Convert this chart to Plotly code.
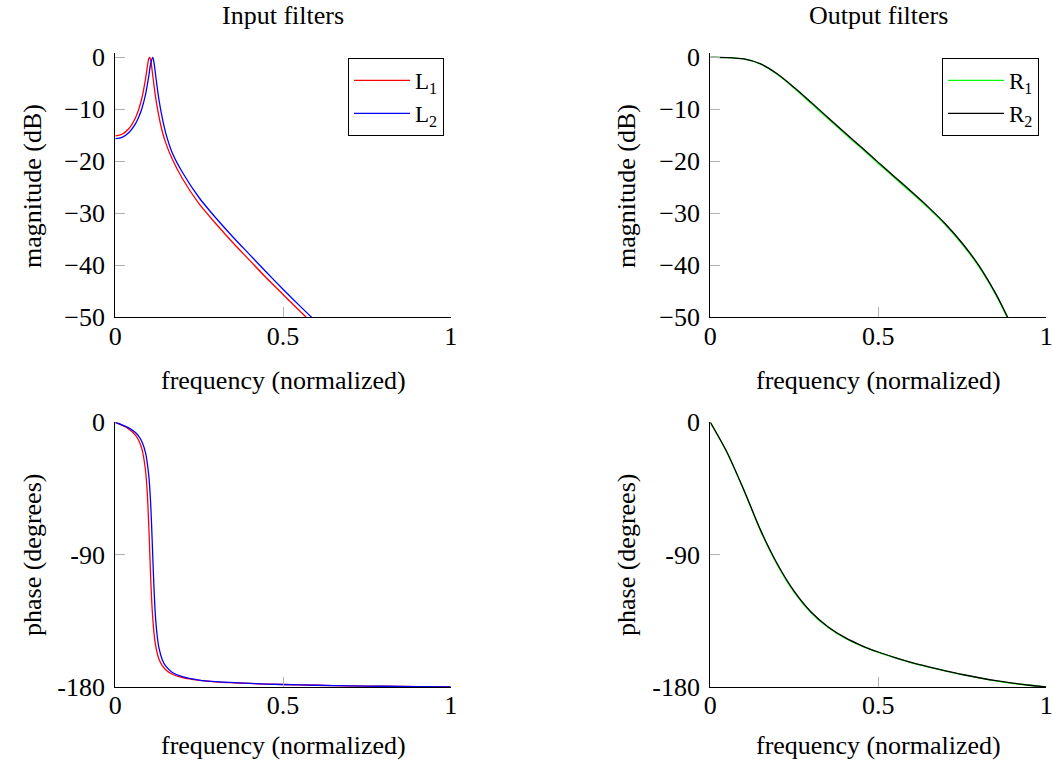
import plotly.graph_objects as go

# ---------------- data ----------------
# Input filters: magnitude (dB)
l1_mag_f = [0, 0.02, 0.04, 0.06, 0.07, 0.08, 0.09, 0.095, 0.1, 0.103, 0.106, 0.11, 0.115, 0.12,
            0.13, 0.14, 0.15, 0.17, 0.2, 0.25, 0.3, 0.35, 0.4, 0.45, 0.5, 0.55, 0.6]
l1_mag = [-15.1, -14.78, -13.73, -11.65, -9.99, -7.62, -4.18, -2.03, -0.21, 0.0, -0.72, -2.57, -5.2, -7.58,
          -11.35, -14.26, -16.4, -19.6, -23.3, -28.2, -32.0, -35.6, -39.0, -42.4, -45.6, -48.8, -51.9]
l2_mag_f = [0, 0.02, 0.04, 0.06, 0.07, 0.08, 0.09, 0.1, 0.105, 0.1115, 0.115, 0.12, 0.125, 0.13,
            0.14, 0.15, 0.17, 0.2, 0.25, 0.3, 0.35, 0.4, 0.45, 0.5, 0.55, 0.6]
l2_mag = [-15.65, -15.38, -14.5, -12.8, -11.49, -9.69, -7.18, -3.51, -1.37, 0.0, -0.85, -3.3, -5.83, -8.07,
          -11.66, -14.46, -18.4, -22.1, -27.0, -30.9, -34.5, -37.9, -41.3, -44.6, -47.8, -50.9]

# Input filters: phase (degrees)
l1_ph_f = [0, 0.02, 0.04, 0.06, 0.07, 0.08, 0.09, 0.095, 0.1, 0.103, 0.106, 0.11, 0.115, 0.12, 0.13,
           0.14, 0.15, 0.17, 0.2, 0.25, 0.3, 0.4, 0.5, 0.6, 0.7, 0.8, 0.9, 1.0]
l1_ph = [0, -2.0, -4.5, -8.7, -12.4, -18.8, -32.6, -46.8, -71.2, -90.0, -108.6, -127.3, -142.5, -151.5, -161.0,
         -165.5, -168.2, -171.3, -173.6, -175.5, -176.5, -177.6, -178.3, -178.8, -179.2, -179.5, -179.7, -180]
l2_ph_f = [0, 0.02, 0.04, 0.06, 0.07, 0.08, 0.09, 0.1, 0.105, 0.108, 0.1115, 0.115, 0.12, 0.125, 0.13,
           0.14, 0.15, 0.17, 0.2, 0.25, 0.3, 0.4, 0.5, 0.6, 0.7, 0.8, 0.9, 1.0]
l2_ph = [0, -1.7, -3.8, -7.0, -9.6, -13.5, -20.6, -36.6, -53.4, -68.6, -90.0, -110.9, -133.0, -145.5, -153.2,
         -161.4, -165.7, -170.1, -173.0, -175.3, -176.4, -177.6, -178.3, -178.8, -179.2, -179.5, -179.7, -180]

# Output filters: magnitude (dB)
r_mag_f = [0, 0.05, 0.1, 0.15, 0.2, 0.25, 0.3, 0.35, 0.4, 0.45, 0.5, 0.55, 0.6, 0.65, 0.7, 0.75,
           0.8, 0.85, 0.885, 0.9]
r1_mag = [0, -0.03, -0.3, -1.3, -3.3, -5.95, -8.85, -11.75, -14.65, -17.5, -20.4, -23.25, -26.1, -29.05,
          -32.25, -35.95, -40.3, -45.7, -50.2, -52.2]
r2_mag = [0, -0.03, -0.3, -1.25, -3.2, -5.8, -8.65, -11.55, -14.45, -17.3, -20.2, -23.05, -25.9, -28.85,
          -32.05, -35.75, -40.1, -45.5, -50.0, -52.0]

# Output filters: phase (degrees)
r_ph_f = [0, 0.05, 0.1, 0.15, 0.2, 0.25, 0.3, 0.35, 0.4, 0.45, 0.5, 0.55, 0.6, 0.65, 0.7, 0.75,
          0.8, 0.85, 0.9, 0.95, 1.0]
r1_ph = [0, -20.7, -46.4, -74.0, -97.1, -115.6, -129.5, -139.4, -146.7, -152.1, -156.5, -160.2, -163.6,
         -166.5, -169.1, -171.6, -173.8, -175.8, -177.5, -178.8, -180]
r2_ph = [0, -20.5, -46.0, -73.5, -96.5, -115.0, -129.0, -139.0, -146.3, -151.8, -156.2, -160.0, -163.4,
         -166.3, -169.0, -171.5, -173.7, -175.7, -177.4, -178.8, -180]

x_ticks = [0, 0.5, 1]
x_ticktext = ["0", "0.5", "1"]
mag_ticks = [0, -10, -20, -30, -40, -50]
mag_ticktext = ["0", "\u221210", "\u221220", "\u221230", "\u221240", "\u221250"]
ph_ticks = [0, -90, -180]
ph_ticktext = ["0", "-90", "-180"]

# ---------------- figure ----------------
W, H = 1053, 767
FONT = "Liberation Serif"
FS = 26


def fx(px):
    return px / W


def fy(py):
    return 1 - py / H


fig = go.Figure()
lw = 1.3
spline = dict(shape="spline", smoothing=0.8)

fig.add_trace(go.Scatter(x=l1_mag_f, y=l1_mag, mode="lines", name="L<sub>1</sub>",
                         line=dict(color="#ff0000", width=lw, **spline), xaxis="x", yaxis="y", legend="legend"))
fig.add_trace(go.Scatter(x=l2_mag_f, y=l2_mag, mode="lines", name="L<sub>2</sub>",
                         line=dict(color="#0000ff", width=lw, **spline), xaxis="x", yaxis="y", legend="legend"))
fig.add_trace(go.Scatter(x=r_mag_f, y=r1_mag, mode="lines", name="R<sub>1</sub>",
                         line=dict(color="#00ff00", width=lw, **spline), xaxis="x2", yaxis="y2", legend="legend2"))
fig.add_trace(go.Scatter(x=r_mag_f, y=r2_mag, mode="lines", name="R<sub>2</sub>",
                         line=dict(color="#000000", width=lw, **spline), xaxis="x2", yaxis="y2", legend="legend2"))
fig.add_trace(go.Scatter(x=l1_ph_f, y=l1_ph, mode="lines", showlegend=False,
                         line=dict(color="#ff0000", width=lw, **spline), xaxis="x3", yaxis="y3"))
fig.add_trace(go.Scatter(x=l2_ph_f, y=l2_ph, mode="lines", showlegend=False,
                         line=dict(color="#0000ff", width=lw, **spline), xaxis="x3", yaxis="y3"))
fig.add_trace(go.Scatter(x=r_ph_f, y=r1_ph, mode="lines", showlegend=False,
                         line=dict(color="#00ff00", width=lw, **spline), xaxis="x4", yaxis="y4"))
fig.add_trace(go.Scatter(x=r_ph_f, y=r2_ph, mode="lines", showlegend=False,
                         line=dict(color="#000000", width=lw, **spline), xaxis="x4", yaxis="y4"))

common_axis = dict(showline=True, linecolor="black", linewidth=1.2, ticks="inside", ticklen=10,
                   tickcolor="#b0b0b0", tickwidth=1.3, showgrid=False, zeroline=False, automargin=False,
                   tickfont=dict(family=FONT, size=FS, color="black"), fixedrange=True)

left_dom = [fx(115.3), fx(450.7)]
right_dom = [fx(710.3), fx(1046.3)]
top_dom = [fy(317.3), fy(52.7)]
bot_dom = [fy(687.0), fy(422.3)]

xcfg = dict(range=[0, 1], tickmode="array", tickvals=x_ticks, ticktext=x_ticktext, ticklabelstandoff=-5, **common_axis)
magcfg = dict(range=[-50, 0.9], tickmode="array", tickvals=mag_ticks, ticktext=mag_ticktext, ticklabelstandoff=4, **common_axis)
phcfg = dict(range=[-180, 0], tickmode="array", tickvals=ph_ticks, ticktext=ph_ticktext, ticklabelstandoff=4, **common_axis)

legend_common = dict(xanchor="right", yanchor="top", bordercolor="black", borderwidth=1,
                     bgcolor="white", font=dict(family=FONT, size=23, color="black"),
                     tracegroupgap=0, itemwidth=56)

fig.update_layout(
    width=W, height=H, margin=dict(l=0, r=0, t=0, b=0, pad=0, autoexpand=False),
    paper_bgcolor="white", plot_bgcolor="white",
    font=dict(family=FONT, size=FS, color="black"),
    xaxis=dict(domain=left_dom, anchor="y", **xcfg),
    yaxis=dict(domain=top_dom, anchor="x", **magcfg),
    xaxis2=dict(domain=right_dom, anchor="y2", **xcfg),
    yaxis2=dict(domain=top_dom, anchor="x2", **magcfg),
    xaxis3=dict(domain=left_dom, anchor="y3", **xcfg),
    yaxis3=dict(domain=bot_dom, anchor="x3", **phcfg),
    xaxis4=dict(domain=right_dom, anchor="y4", **xcfg),
    yaxis4=dict(domain=bot_dom, anchor="x4", **phcfg),
    legend=dict(x=fx(444), y=fy(58), **legend_common),
    legend2=dict(x=fx(1039), y=fy(58), **legend_common),
    showlegend=True,
)

annots = [
    dict(text="Input filters", x=fx(283), y=fy(15)),
    dict(text="Output filters", x=fx(878.3), y=fy(15)),
    dict(text="frequency (normalized)", x=fx(283), y=fy(380)),
    dict(text="frequency (normalized)", x=fx(878.3), y=fy(380)),
    dict(text="frequency (normalized)", x=fx(283), y=fy(745)),
    dict(text="frequency (normalized)", x=fx(878.3), y=fy(745)),
    dict(text="magnitude (dB)", x=fx(32), y=fy(186), textangle=-90),
    dict(text="magnitude (dB)", x=fx(626), y=fy(186), textangle=-90),
    dict(text="phase (degrees)", x=fx(32), y=fy(555), textangle=-90),
    dict(text="phase (degrees)", x=fx(626), y=fy(555), textangle=-90),
]
for a in annots:
    fig.add_annotation(xref="paper", yref="paper", showarrow=False, xanchor="center", yanchor="middle",
                       font=dict(family=FONT, size=FS, color="black"), **a)

fig.write_html("out.html", config={"displayModeBar": False},
               post_script="document.body.style.margin='0';")
